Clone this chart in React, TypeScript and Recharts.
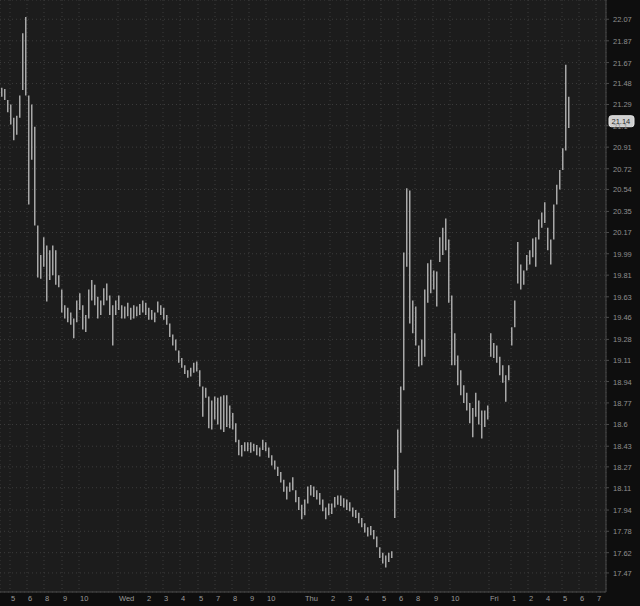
import React from 'react';
import { ComposedChart, Bar, XAxis, YAxis, CartesianGrid, ReferenceLine } from 'recharts';

// bar highs / lows, one entry per bar slot
const highs = [
  21.44, 21.43, 21.33, 21.29, 21.17, 21.19, 21.37, 21.94, 22.09, 21.37,
  21.29, 21.09, 20.23, 19.98, 20.13, 20.06, 20.02, 20.06, 20.02, 19.81,
  19.69, 19.56, 19.54, 19.5, 19.45, 19.6, 19.66, 19.56, 19.48, 19.69,
  19.77, 19.73, 19.63, 19.6, 19.7, 19.74, 19.64, 19.56, 19.6, 19.64,
  19.56, 19.55, 19.58, 19.54, 19.56, 19.55, 19.57, 19.6, 19.58, 19.54,
  19.52, 19.5, 19.59, 19.56, 19.54, 19.48, 19.41, 19.32, 19.28, 19.19,
  19.13, 19.07, 19.03, 19.05, 19.09, 19.1, 19.03, 18.9, 18.89, 18.82,
  18.79, 18.82, 18.81, 18.82, 18.83, 18.83, 18.75, 18.69, 18.61, 18.48,
  18.44, 18.46, 18.46, 18.46, 18.45, 18.44, 18.42, 18.48, 18.46, 18.42,
  18.36, 18.32, 18.27, 18.23, 18.17, 18.12, 18.15, 18.19, 18.09, 18.04,
  17.98, 18.02, 18.12, 18.13, 18.12, 18.09, 18.07, 18.02, 17.96, 17.99,
  17.99, 18.04, 18.05, 18.05, 18.03, 18.02, 18.0, 17.96, 17.94, 17.92,
  17.88, 17.84, 17.81, 17.82, 17.79, 17.74, 17.66, 17.62, 17.6, 17.62,
  17.63, 18.25, 18.56, 18.9, 20.0, 20.55, 20.53, 19.6, 19.55, 19.23,
  19.28, 19.69, 19.91, 19.94, 19.85, 19.84, 20.13, 20.21, 20.29, 20.11,
  19.64, 19.33, 19.15, 19.03, 18.91, 18.85, 18.77, 18.73, 18.85, 18.79,
  18.71, 18.71, 18.75, 19.33, 19.25, 19.23, 19.14, 19.07, 18.99, 19.07,
  19.38, 19.6, 20.09, 19.9, 19.85, 19.98, 20.02, 20.12, 20.13, 20.28,
  20.34, 20.43, 20.21, 20.11, 20.41, 20.58, 20.71, 20.9, 21.65, 21.36,
];

const lows = [
  21.36, 21.33, 21.22, 21.11, 20.97, 21.02, 21.17, 21.42, 21.37, 20.41,
  20.8, 20.23, 19.79, 19.78, 19.88, 19.59, 19.77, 19.81, 19.73, 19.71,
  19.5, 19.45, 19.42, 19.4, 19.29, 19.42, 19.52, 19.36, 19.34, 19.45,
  19.6, 19.56, 19.45, 19.48, 19.56, 19.6, 19.48, 19.23, 19.48, 19.52,
  19.45, 19.45, 19.47, 19.44, 19.45, 19.47, 19.48, 19.5, 19.48, 19.44,
  19.44, 19.42, 19.5, 19.48, 19.44, 19.4, 19.3, 19.23, 19.19, 19.09,
  19.05, 19.0, 18.97, 18.98, 19.01, 19.02, 18.9, 18.66, 18.81, 18.57,
  18.56, 18.64, 18.6, 18.56, 18.54, 18.58, 18.57, 18.56, 18.46, 18.36,
  18.35, 18.39, 18.39, 18.38, 18.39, 18.36, 18.35, 18.4, 18.39, 18.34,
  18.28, 18.25, 18.2, 18.15, 18.08, 18.02, 18.08, 18.09, 18.0, 17.94,
  17.87, 17.9, 17.99, 18.05, 18.04, 18.02, 17.98, 17.93, 17.87, 17.9,
  17.91, 17.96, 17.98, 17.97, 17.96, 17.94, 17.93, 17.89, 17.88, 17.84,
  17.81, 17.77, 17.74, 17.75, 17.72, 17.66, 17.58, 17.54, 17.51, 17.55,
  17.58, 17.88, 18.09, 18.38, 18.87, 19.88, 19.41, 19.33, 19.23, 19.06,
  19.07, 19.14, 19.58, 19.66, 19.69, 19.55, 19.92, 19.98, 20.02, 19.58,
  19.07, 19.07, 18.91, 18.83, 18.77, 18.71, 18.61, 18.5, 18.66, 18.6,
  18.49, 18.58, 18.64, 19.14, 19.13, 19.09, 18.99, 18.93, 18.78, 18.95,
  19.23, 19.38, 19.74, 19.69, 19.73, 19.85, 19.9, 19.96, 19.88, 20.11,
  20.21, 20.25, 20.02, 19.9, 20.11, 20.41, 20.54, 20.71, 20.88, 21.08,
];

const lastPrice = 21.14;

// session ticks, as bar slot positions
const xTickSlots = [
  3.33, 9, 14.67, 20.67, 26.33, 39.33, 48.67, 54.33, 60, 66, 71.67, 77.33, 83, 88.67,
  101.33, 110, 115.67, 121.33, 127, 132.67, 138.33, 144.33, 150, 163, 170.33, 176,
  181.67, 187.33, 193, 198.67,
];
const xTickLabels = [
  '5', '6', '8', '9', '10', 'Wed', '2', '3', '4', '5', '7', '8', '9', '10',
  'Thu', '2', '3', '4', '5', '6', '8', '9', '10', 'Fri', '1', '2', '4', '5', '6', '7',
];

const yTicks = [
  17.47, 17.62, 17.78, 17.94, 18.11, 18.27, 18.43, 18.6, 18.77, 18.94, 19.11, 19.28,
  19.46, 19.63, 19.81, 19.99, 20.17, 20.35, 20.54, 20.72, 20.91, 21.1, 21.29, 21.48,
  21.67, 21.87, 22.07,
];

const data = highs.map((h, i) => ({ slot: i + 0.5, range: [lows[i], h] }));

const FONT = '"Liberation Sans", Arial, sans-serif';

const XTick = (props: any) => {
  const { x, y, payload } = props;
  const idx = xTickSlots.indexOf(payload.value);
  return (
    <text x={x + 1} y={y + 1} textAnchor="start" fontSize={7.5} fill="#9a9a9a" fontFamily={FONT}>
      {xTickLabels[idx]}
    </text>
  );
};

const YTick = (props: any) => {
  const { x, y, payload } = props;
  return (
    <text x={x + 2} y={y + 3} textAnchor="start" fontSize={7.5} fill="#8e8e8e" fontFamily={FONT}>
      {payload.value}
    </text>
  );
};

const PriceTag = (props: any) => {
  const { viewBox } = props;
  const x = viewBox.x + viewBox.width + 3;
  const y = viewBox.y;
  return (
    <g>
      <rect x={x} y={y - 5.5} width={25} height={11} rx={2.5} fill="#cfcfcf" stroke="#e6e6e6" />
      <text x={x + 2.5} y={y + 3} fontSize={7.5} fill="#2a2a2a" fontFamily={FONT}>
        {lastPrice.toFixed(2)}
      </text>
    </g>
  );
};

export default function App() {
  return (
    <div style={{ position: 'fixed', left: 0, top: 0, width: 640, height: 606, background: '#0e0e0e' }}>
      <ComposedChart width={640} height={606} data={data} margin={{ top: 0, right: 0, bottom: 0, left: 0 }}>
        <CartesianGrid fill="#1c1c1c" stroke="#3c3c3c" strokeDasharray="1 3" />
        <XAxis
          dataKey="slot"
          type="number"
          domain={[0, 202]}
          ticks={xTickSlots}
          interval={0}
          height={14}
          stroke="#4a4a4a"
          tickLine={false}
          tick={<XTick />}
          allowDataOverflow
        />
        <YAxis
          orientation="right"
          width={34}
          scale="log"
          domain={[17.33, 22.25]}
          ticks={yTicks}
          interval={0}
          allowDataOverflow
          stroke="#4a4a4a"
          tickSize={3}
          tick={<YTick />}
        />
        <Bar dataKey="range" barSize={1.5} fill="#a8a8a8" isAnimationActive={false} />
        <ReferenceLine y={lastPrice} stroke="none" label={<PriceTag />} />
      </ComposedChart>
    </div>
  );
}
